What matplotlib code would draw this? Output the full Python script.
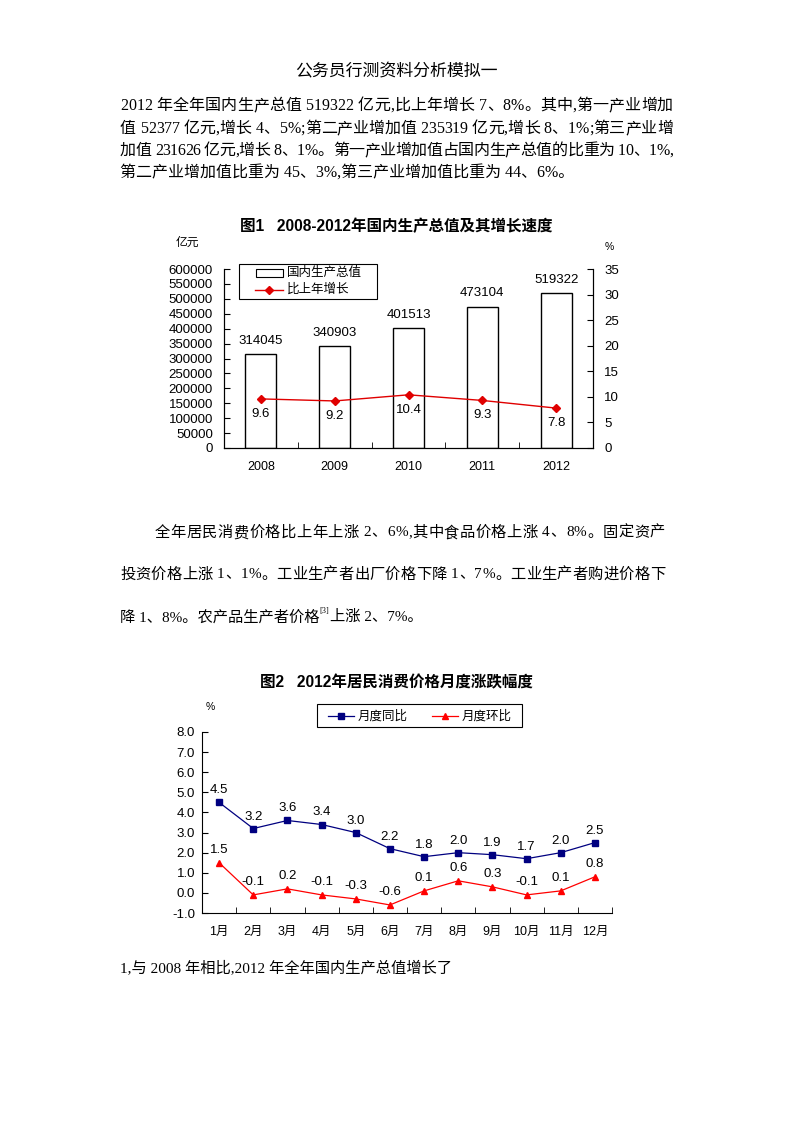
import matplotlib
matplotlib.use("Agg")
import matplotlib.pyplot as plt
from matplotlib.lines import Line2D
from matplotlib.patches import Rectangle
import numpy as np

# ---------------- data ----------------
years = ["2008", "2009", "2010", "2011", "2012"]
gdp = [314045, 340903, 401513, 473104, 519322]
growth = [9.6, 9.2, 10.4, 9.3, 7.8]

months = ["1月", "2月", "3月", "4月", "5月", "6月", "7月", "8月", "9月", "10月", "11月", "12月"]
cpi_yoy = [4.5, 3.2, 3.6, 3.4, 3.0, 2.2, 1.8, 2.0, 1.9, 1.7, 2.0, 2.5]
cpi_mom = [1.5, -0.1, 0.2, -0.1, -0.3, -0.6, 0.1, 0.6, 0.3, -0.1, 0.1, 0.8]

title_doc = "公务员行测资料分析模拟一"
para1 = [
    "2012 年全年国内生产总值 519322 亿元,比上年增长 7、8%。其中,第一产业增加",
    "值 52377 亿元,增长 4、5%;第二产业增加值 235319 亿元,增长 8、1%;第三产业增",
    "加值 231626 亿元,增长 8、1%。第一产业增加值占国内生产总值的比重为 10、1%,",
    "第二产业增加值比重为 45、3%,第三产业增加值比重为 44、6%。",
]
para2 = [
    "全年居民消费价格比上年上涨 2、6%,其中食品价格上涨 4、8%。固定资产",
    "投资价格上涨 1、1%。工业生产者出厂价格下降 1、7%。工业生产者购进价格下",
    "降 1、8%。农产品生产者价格",
]
para2_tail = "上涨 2、7%。"
question = "1,与 2008 年相比,2012 年全年国内生产总值增长了"

SERIF = ["Liberation Serif", "Noto Sans CJK SC"]
SANS = ["Liberation Sans", "Noto Sans CJK SC"]
plt.rcParams["font.family"] = SANS

W, H = 793, 1122
fig = plt.figure(figsize=(W / 100, H / 100), dpi=100)


def fx(x):
    return x / W


def fy(y):
    return 1 - y / H


def jtext(x0, x1, y, s, size, family):
    """draw a line of text stretched/compressed to width x1-x0 by spacing characters."""
    fig.canvas.draw()
    r = fig.canvas.get_renderer()
    widths = []
    for ch in s:
        if ch == " ":
            widths.append(size * 0.25 * 100 / 72)
            continue
        tt = fig.text(0, 0, ch, fontsize=size, family=family)
        widths.append(tt.get_window_extent(r).width)
        tt.remove()
    total = sum(widths)
    gap = ((x1 - x0) - total) / (len(s) - 1)
    x = x0
    for ch, cw in zip(s, widths):
        if ch != " ":
            fig.text(fx(x), fy(y), ch, fontsize=size, family=family, va="center", ha="left")
        x += cw + gap


# --- document text ---
fig.text(0.5, fy(72), title_doc, fontsize=12.2, family=SERIF, ha="center", va="center")
p1y = [106, 129, 151, 174]
for i, (s, y) in enumerate(zip(para1, p1y)):
    if i < 3:
        jtext(120, 673, y, s, 11.5, SERIF)
    else:
        fig.text(fx(120), fy(y), s, fontsize=11.5, family=SERIF, va="center", ha="left")

jtext(155, 665, 533, para2[0], 11, SERIF)
jtext(120, 665, 575, para2[1], 11, SERIF)
t = fig.text(fx(120), fy(617), para2[2], fontsize=11, family=SERIF, va="center", ha="left")
fig.canvas.draw()
bb = t.get_window_extent(fig.canvas.get_renderer())
fig.text(bb.x1 / W, fy(611), "[3]", fontsize=6, family=SERIF, va="center", ha="left")
fig.text((bb.x1 + 10) / W, fy(617), para2_tail, fontsize=11, family=SERIF, va="center", ha="left")

fig.text(fx(120), fy(969), question, fontsize=11, family=SERIF, va="center", ha="left")

# ---------------- chart 1 ----------------
ax1 = fig.add_axes([fx(224), fy(448), (593 - 224) / W, (448 - 269) / H])
x = np.arange(len(years))
ax1.bar(x, gdp, width=0.42, facecolor="white", edgecolor="black", linewidth=1.0, zorder=2)
ax1.set_xlim(-0.5, len(years) - 0.5)
ax1.set_ylim(0, 600000)
ax1.set_yticks(np.arange(0, 600001, 50000))
ax1.set_yticklabels([str(v) for v in range(0, 600001, 50000)], fontsize=9.5)
ax1.set_xticks(x)
ax1.set_xticklabels(years, fontsize=9)
ax1.set_xticks(np.arange(-0.5, len(years), 1), minor=True)
ax1.tick_params(axis="x", which="major", length=0, pad=9)
ax1.tick_params(axis="x", which="minor", direction="in", length=4)
ax1.tick_params(axis="y", direction="in", length=4, pad=8)
ax1.spines["top"].set_visible(False)
for v, xi in zip(gdp, x):
    ax1.text(xi, v + 25000, str(v), ha="center", va="bottom", fontsize=9.5)

ax1b = ax1.twinx()
ax1b.set_ylim(0, 35)
ax1b.set_yticks(np.arange(0, 36, 5))
ax1b.set_yticklabels([str(v) for v in range(0, 36, 5)], fontsize=9.5)
ax1b.tick_params(axis="y", direction="in", length=4, pad=8)
ax1b.spines["top"].set_visible(False)
ax1b.plot(x, growth, color="#E00000", linewidth=1.0, marker="D", markersize=4, zorder=3)
for v, xi in zip(growth, x):
    ax1b.text(xi, v - 1.7, str(v), ha="center", va="top", fontsize=9.5)

fig.text(0.5, fy(226), "图1   2008-2012年国内生产总值及其增长速度", fontsize=11.2,
         fontweight="bold", ha="center", va="center")
fig.text(fx(176), fy(243), "亿元", fontsize=8.5, ha="left", va="center")
fig.text(fx(605), fy(247), "%", fontsize=7.5, ha="left", va="center")

# legend chart 1 (manual box)
fig.patches.append(Rectangle((fx(239), fy(299)), (377 - 239) / W, (299 - 264) / H,
                             transform=fig.transFigure, facecolor="white", edgecolor="black",
                             linewidth=0.8, zorder=5))
fig.patches.append(Rectangle((fx(256), fy(277)), (283 - 256) / W, (277 - 269) / H,
                             transform=fig.transFigure, facecolor="white", edgecolor="black",
                             linewidth=0.8, zorder=6))
fig.text(fx(287), fy(273), "国内生产总值", fontsize=9, ha="left", va="center", zorder=6)
fig.lines.append(Line2D([fx(255), fx(283)], [fy(290), fy(290)], transform=fig.transFigure,
                        color="#E00000", linewidth=1.0, marker="", zorder=6))
fig.lines.append(Line2D([fx(269)], [fy(290)], transform=fig.transFigure,
                        color="#E00000", marker="D", markersize=4, zorder=6))
fig.text(fx(287), fy(290), "比上年增长", fontsize=9, ha="left", va="center", zorder=6)

# ---------------- chart 2 ----------------
ax2 = fig.add_axes([fx(202), fy(913), (612 - 202) / W, (913 - 732) / H])
m = np.arange(len(months))
ax2.plot(m, cpi_yoy, color="#000080", linewidth=0.9, marker="s", markersize=4.5, zorder=3)
ax2.plot(m, cpi_mom, color="#FF0000", linewidth=0.9, marker="^", markersize=5, zorder=3)
ax2.set_xlim(-0.5, len(months) - 0.5)
ax2.set_ylim(-1, 8)
yt = np.arange(-1, 8.01, 1)
ax2.set_yticks(yt)
ax2.set_yticklabels([f"{v:.1f}" for v in yt], fontsize=9.5)
ax2.tick_params(axis="y", direction="in", length=4, pad=5)
ax2.set_xticks(m)
ax2.set_xticklabels(months, fontsize=9)
ax2.set_xticks(np.arange(-0.5, len(months), 1), minor=True)
ax2.tick_params(axis="x", which="major", length=0, pad=9)
ax2.tick_params(axis="x", which="minor", direction="in", length=4)
ax2.spines["top"].set_visible(False)
ax2.spines["right"].set_visible(False)
for xi, v in zip(m, cpi_yoy):
    ax2.text(xi, v + 0.3, f"{v:.1f}", ha="center", va="bottom", fontsize=9.5)
for xi, v in zip(m, cpi_mom):
    ax2.text(xi, v + 0.35, f"{v:.1f}", ha="center", va="bottom", fontsize=9.5)

fig.text(0.5, fy(683), "图2   2012年居民消费价格月度涨跌幅度", fontsize=11.2,
         fontweight="bold", ha="center", va="center")
fig.text(fx(206), fy(707), "%", fontsize=7.5, ha="left", va="center")

fig.patches.append(Rectangle((fx(317), fy(727)), (522 - 317) / W, (727 - 704) / H,
                             transform=fig.transFigure, facecolor="white", edgecolor="black",
                             linewidth=0.8, zorder=5))
fig.lines.append(Line2D([fx(328), fx(354)], [fy(716), fy(716)], transform=fig.transFigure,
                        color="#000080", linewidth=0.9, zorder=6))
fig.lines.append(Line2D([fx(341)], [fy(716)], transform=fig.transFigure,
                        color="#000080", marker="s", markersize=4.5, zorder=6))
fig.text(fx(358), fy(716), "月度同比", fontsize=9, ha="left", va="center", zorder=6)
fig.lines.append(Line2D([fx(432), fx(458)], [fy(716), fy(716)], transform=fig.transFigure,
                        color="#FF0000", linewidth=0.9, zorder=6))
fig.lines.append(Line2D([fx(445)], [fy(716)], transform=fig.transFigure,
                        color="#FF0000", marker="^", markersize=5, zorder=6))
fig.text(fx(462), fy(716), "月度环比", fontsize=9, ha="left", va="center", zorder=6)

fig.savefig("out.png", dpi=100)
